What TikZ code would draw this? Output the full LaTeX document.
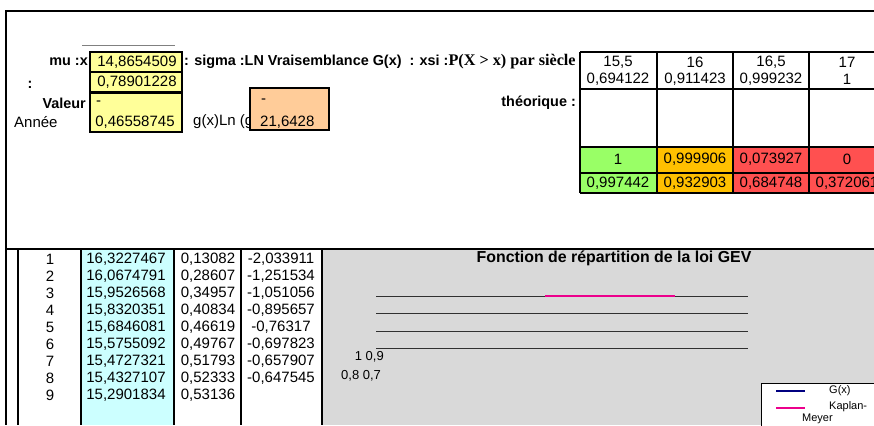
\documentclass[tikz,border=0pt]{standalone}
\usepackage{fontspec}
\setmainfont{Liberation Sans}
\newfontfamily\timesf{Liberation Serif}
\definecolor{cyanc}{HTML}{CCFFFF}
\definecolor{yelc}{HTML}{FFFF99}
\definecolor{orbox}{HTML}{FFCC99}
\definecolor{greenc}{HTML}{99FF66}
\definecolor{orangec}{HTML}{FFC000}
\definecolor{redc}{HTML}{FF5050}
\definecolor{chartgray}{HTML}{D9D9D9}
\definecolor{gline}{HTML}{303030}
\definecolor{navyc}{HTML}{000080}
\begin{document}
\begin{tikzpicture}[x=1pt,y=-1pt,
  txt/.style={inner sep=0pt, font=\fontsize{15}{17}\selectfont},
  btxt/.style={inner sep=0pt, font=\fontsize{14.4}{16}\selectfont\bfseries},
  stxt/.style={inner sep=0pt, font=\fontsize{13}{15}\selectfont},
  ltxt/.style={inner sep=0pt, font=\fontsize{11}{13}\selectfont},
  frame/.style={line width=2pt},
  cellb/.style={line width=1.8pt},
  thickb/.style={line width=2.6pt},
  gridl/.style={gline, line width=1pt}]
\useasboundingbox (0,0) rectangle (874,425);
\clip (0,0) rectangle (874,425);
% ---- bottom area backgrounds
\fill[chartgray] (323,249) rectangle (874,425);
\fill[cyanc] (81,249) rectangle (174,425);
% ---- frames
\draw[frame] (874,11) -- (6,11) -- (6,425);
\draw[frame] (6,249) -- (874,249);
\foreach \xx in {18,81,174,241,322} \draw[frame] (\xx,249) -- (\xx,425);
% ---- top left
\draw[gray, line width=1pt] (82,46) -- (175,46);
\node[btxt, anchor=east] (mu) at (88,62) {mu :x};
\node[btxt] (colon) at (30,85) {:};
\node[btxt, anchor=east] (valeur) at (86,103) {Valeur};
\node[txt, anchor=west] (annee) at (14,122) {Année};
\node[txt, anchor=west] (gx) at (193,122) {g(x)Ln (g};
\draw[cellb, fill=yelc] (90,52) rectangle (182,72);
\draw[cellb, fill=yelc] (90,72) rectangle (182,92);
\draw[cellb, fill=yelc] (90,93) rectangle (182,132);
\node[txt] (muv) at (137,62) {14,8654509};
\node[txt] (sigv) at (137,82) {0,78901228};
\node[txt, anchor=west] (xsim) at (96,103) {-};
\node[txt] (xsiv) at (135,122) {0,46558745};
\draw[cellb, fill=orbox] (250,88) rectangle (329,130);
\node[txt, anchor=west] (lnm) at (261,101) {-};
\node[txt, anchor=west] (lnv) at (260,122) {21,6428};
\node[btxt, anchor=west] (head) at (184,62) {: sigma :LN Vraisemblance G(x) \ : xsi :{\timesf\fontsize{16.2}{18}\selectfont P(X > x) par siècle}};
\node[btxt, anchor=east] (theo) at (576,103) {théorique :};
% ---- top right table
\fill[greenc] (580,147) rectangle (657,193);
\fill[orangec] (657,147) rectangle (733,193);
\fill[redc] (733,147) rectangle (874,193);
\foreach \yy in {52,173,193} \draw[cellb] (580,\yy) -- (874,\yy);
\foreach \yy in {89,147} \draw[thickb] (580,\yy) -- (874,\yy);
\foreach \xx in {580,657,733,809} \draw[cellb] (\xx,52) -- (\xx,193);
\foreach \n/\xx/\a/\b/\c/\d in {1/618/{15,5}/{0,694122}/{1}/{0,997442},
                               2/695/{16}/{0,911423}/{0,999906}/{0,932903},
                               3/771/{16,5}/{0,999232}/{0,073927}/{0,684748},
                               4/847/{17}/{1}/{0}/{0,372061}}{
  \node[txt] (ta\n) at (\xx,62) {\a};
  \node[txt] (tb\n) at (\xx,79) {\b};
  \node[txt] (tc\n) at (\xx,159) {\c};
  \node[txt] (td\n) at (\xx,183) {\d};
}
% ---- bottom table
\foreach \i/\a/\b/\c in {1/{16,3227467}/{0,13082}/{-2,033911},
                         2/{16,0674791}/{0,28607}/{-1,251534},
                         3/{15,9526568}/{0,34957}/{-1,051056},
                         4/{15,8320351}/{0,40834}/{-0,895657},
                         5/{15,6846081}/{0,46619}/{-0,76317},
                         6/{15,5755092}/{0,49767}/{-0,697823},
                         7/{15,4727321}/{0,51793}/{-0,657907},
                         8/{15,4327107}/{0,52333}/{-0,647545},
                         9/{15,2901834}/{0,53136}/{}}{
  \pgfmathsetmacro{\yy}{259+17*(\i-1)}
  \node[txt] (bn\i) at (50,\yy) {\i};
  \node[txt] (ba\i) at (126,\yy) {\a};
  \node[txt] (bb\i) at (208,\yy) {\b};
  \node[txt] (bc\i) at (281,\yy) {\c};
}
% ---- chart
\node[btxt, font=\fontsize{15.9}{18}\selectfont\bfseries] (title) at (614,258) {Fonction de répartition de la loi GEV};
\foreach \yy in {296,313,331,348} \draw[gridl] (376,\yy) -- (748,\yy);
\draw[magenta, line width=1.6pt] (545,296) -- (675,296);
\node[stxt, anchor=east] (lab1) at (384,357) {1 0,9};
\node[stxt, anchor=west] (lab2) at (341,376) {0,8 0,7};
\draw[fill=white, line width=0.8pt] (761,383) rectangle (880,430);
\draw[navyc, line width=1.2pt] (776,391) -- (805,391);
\node[ltxt, anchor=west] (lg1) at (829,391) {G(x)};
\draw[magenta, line width=1.2pt] (776,408) -- (805,408);
\node[ltxt, anchor=west] (lg2) at (829,407) {Kaplan-};
\node[ltxt, anchor=west] (lg3) at (802,419) {Meyer};
\end{tikzpicture}
\end{document}
